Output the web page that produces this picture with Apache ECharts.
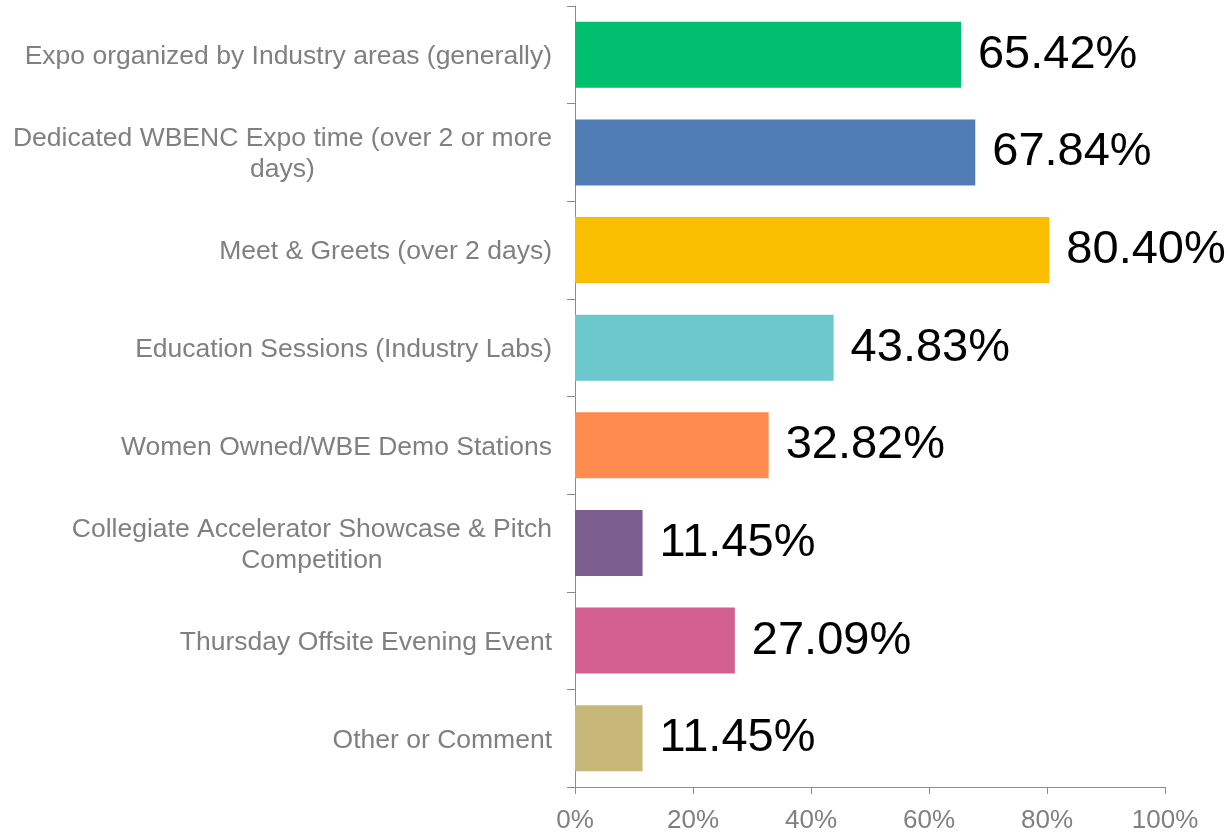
<!DOCTYPE html>
<html>
<head>
<meta charset="utf-8">
<script src="https://cdn.jsdelivr.net/npm/echarts@6/dist/echarts.min.js"></script>
<style>
  html, body { margin: 0; padding: 0; background: #fff; }
  #main { width: 1230px; height: 834px; }
</style>
</head>
<body>
<div id="main"></div>
<script>
// categories top to bottom
var categories = [
    'Expo organized by Industry areas (generally)',
    'Dedicated WBENC Expo time (over 2 or more\ndays)',
    'Meet & Greets (over 2 days)',
    'Education Sessions (Industry Labs)',
    'Women Owned/WBE Demo Stations',
    'Collegiate Accelerator Showcase & Pitch\nCompetition',
    'Thursday Offsite Evening Event',
    'Other or Comment'
];
var values = [65.42, 67.84, 80.40, 43.83, 32.82, 11.45, 27.09, 11.45];
var colors = ['#00bf6f', '#507cb6', '#f9be00', '#6bc8cd', '#ff8b4f', '#7d5e90', '#d25f90', '#c7b879'];
var xTicks = [0, 20, 40, 60, 80, 100];

var chart = echarts.init(document.getElementById('main'));

var option = {
    animation: false,
    grid: {
        left: 575,
        right: 65,
        top: 6,
        bottom: 44
    },
    xAxis: {
        type: 'value',
        min: xTicks[0],
        max: xTicks[xTicks.length - 1],
        interval: 20,
        splitLine: { show: false },
        axisLine: { show: true, lineStyle: { color: '#8c8c8c', width: 1 } },
        axisTick: { show: true, length: 7, lineStyle: { color: '#8c8c8c' } },
        axisLabel: {
            color: '#808080',
            fontFamily: 'Liberation Sans',
            fontSize: 26,
            margin: 21,
            formatter: '{value}%'
        }
    },
    yAxis: {
        type: 'category',
        inverse: true,
        data: categories,
        axisLine: { show: true, lineStyle: { color: '#8c8c8c', width: 1 } },
        axisTick: { show: true, length: 8, lineStyle: { color: '#8c8c8c' } },
        axisLabel: {
            color: '#808080',
            fontFamily: 'Liberation Sans',
            fontSize: 26.5,
            margin: 23,
            padding: [4, 0, 0, 0],
            formatter: function (v) { return '{c|' + v + '}'; },
            rich: {
                c: {
                    align: 'center',
                    color: '#808080',
                    fontFamily: 'Liberation Sans',
                    fontSize: 26.5,
                    lineHeight: 31
                }
            }
        }
    },
    series: [
        {
            type: 'bar',
            barWidth: 66,
            data: values.map(function (v, i) {
                return { value: v, itemStyle: { color: colors[i] } };
            }),
            label: {
                show: true,
                position: 'right',
                distance: 17,
                padding: [5, 0, 0, 0],
                color: '#000',
                fontFamily: 'Liberation Sans',
                fontSize: 47,
                formatter: function (p) { return p.value.toFixed(2) + '%'; }
            }
        }
    ]
};

chart.setOption(option);
</script>
</body>
</html>
